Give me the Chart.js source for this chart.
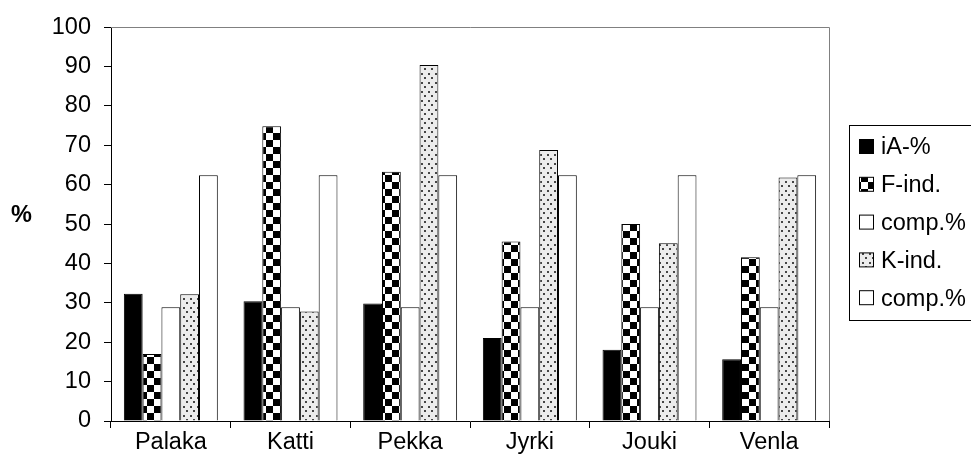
<!DOCTYPE html>
<html>
<head>
<meta charset="utf-8">
<script src="https://cdn.jsdelivr.net/npm/chart.js@4.4.1/dist/chart.umd.min.js"></script>
<style>
  html, body { margin: 0; padding: 0; background: #fff; overflow: hidden; }
  #wrap { position: absolute; left: 0; top: 0; width: 971px; height: 466px; }
</style>
</head>
<body>
<div id="wrap"><canvas id="c"></canvas></div>
<script>
const categories = ['Palaka', 'Katti', 'Pekka', 'Jyrki', 'Jouki', 'Venla'];
const seriesNames = ['iA-%', 'F-ind.', 'comp.%', 'K-ind.', 'comp.%'];
const iA    = [32.3, 30.4, 29.8, 21.1, 18.1, 15.7];
const Find  = [17.0, 74.8, 63.3, 45.6, 50.0, 41.6];
const comp1 = [28.9, 28.9, 28.9, 28.9, 28.9, 28.9];
const Kind  = [32.2, 27.8, 90.4, 68.8, 45.1, 61.8];
const comp2 = [62.4, 62.4, 62.4, 62.4, 62.4, 62.4];
const yTicks = [0, 10, 20, 30, 40, 50, 60, 70, 80, 90, 100];
const yTitle = '%';

function makeChecker() {
  const t = document.createElement('canvas');
  t.width = 14; t.height = 14;
  const g = t.getContext('2d');
  g.fillStyle = '#fff'; g.fillRect(0, 0, 14, 14);
  g.fillStyle = '#000';
  g.fillRect(0, 0, 7, 7);
  g.fillRect(7, 7, 7, 7);
  return g.createPattern(t, 'repeat');
}
function makeDots() {
  const t = document.createElement('canvas');
  t.width = 7; t.height = 9;
  const g = t.getContext('2d');
  g.fillStyle = '#ececec'; g.fillRect(0, 0, 7, 9);
  g.fillStyle = '#444';
  g.fillRect(1, 1, 2, 2);
  g.fillRect(4, 5, 2, 2);
  return g.createPattern(t, 'repeat');
}

const checker = makeChecker();
const dots = makeDots();
const FONT = '"Liberation Sans", Arial, sans-serif';
const FS = 23.5;

const fills = ['#000', checker, '#fff', dots, '#fff'];
const values = [iA, Find, comp1, Kind, comp2];

const datasets = values.map((v, i) => ({
  label: seriesNames[i],
  data: v,
  backgroundColor: fills[i],
  borderColor: '#000',
  borderWidth: 1,
  categoryPercentage: 0.785,
  barPercentage: 1.0
}));

const framePlugin = {
  id: 'frame',
  afterDraw(chart) {
    const { ctx, chartArea: a } = chart;
    ctx.save();
    ctx.strokeStyle = '#808080';
    ctx.lineWidth = 1;
    ctx.beginPath();
    ctx.moveTo(a.left, Math.round(a.top) + 0.5);
    ctx.lineTo(Math.round(a.right) + 0.5, Math.round(a.top) + 0.5);
    ctx.lineTo(Math.round(a.right) + 0.5, a.bottom);
    ctx.stroke();
    // y title
    ctx.fillStyle = '#000';
    ctx.font = 'bold ' + FS + 'px ' + FONT;
    ctx.textAlign = 'center';
    ctx.textBaseline = 'middle';
    ctx.fillText(yTitle, 21.5, 216);
    // legend
    const lx = 849.5, ly = 125.5, lh = 195;
    ctx.strokeStyle = '#000';
    ctx.strokeRect(lx, ly, 200, lh);
    ctx.font = FS + 'px ' + FONT;
    ctx.textAlign = 'left';
    chart.data.datasets.forEach((ds, i) => {
      const cy = 147 + i * 37.8;
      ctx.fillStyle = ds.backgroundColor;
      ctx.fillRect(859.5, cy - 7.5, 14, 14);
      ctx.strokeStyle = '#000';
      ctx.strokeRect(859.5, cy - 7.5, 14, 14);
      ctx.fillStyle = '#000';
      ctx.fillText(ds.label, 881, cy + 1);
    });
    ctx.restore();
  }
};

new Chart(document.getElementById('c'), {
  type: 'bar',
  data: { labels: categories, datasets },
  options: {
    responsive: true,
    maintainAspectRatio: false,
    animation: false,
    layout: { padding: { left: 0, top: 26, right: 142, bottom: 0 } },
    plugins: { legend: { display: false }, tooltip: { enabled: false } },
    scales: {
      x: {
        grid: { drawOnChartArea: false, drawTicks: true, tickLength: 7, color: '#000', offset: true },
        border: { display: true, color: '#000', width: 1 },
        ticks: { color: '#000', font: { family: FONT, size: FS }, padding: 0, maxRotation: 0 },
        afterFit(s) { s.height = 45; }
      },
      y: {
        min: 0, max: 100,
        afterBuildTicks(s) { s.ticks = yTicks.map(v => ({ value: v })); },
        grid: { drawOnChartArea: false, drawTicks: true, tickLength: 7, color: '#000' },
        border: { display: true, color: '#000', width: 1 },
        ticks: { color: '#000', font: { family: FONT, size: FS }, padding: 13 },
        afterFit(s) { s.width = 111; }
      }
    }
  },
  plugins: [framePlugin]
});
</script>
</body>
</html>
